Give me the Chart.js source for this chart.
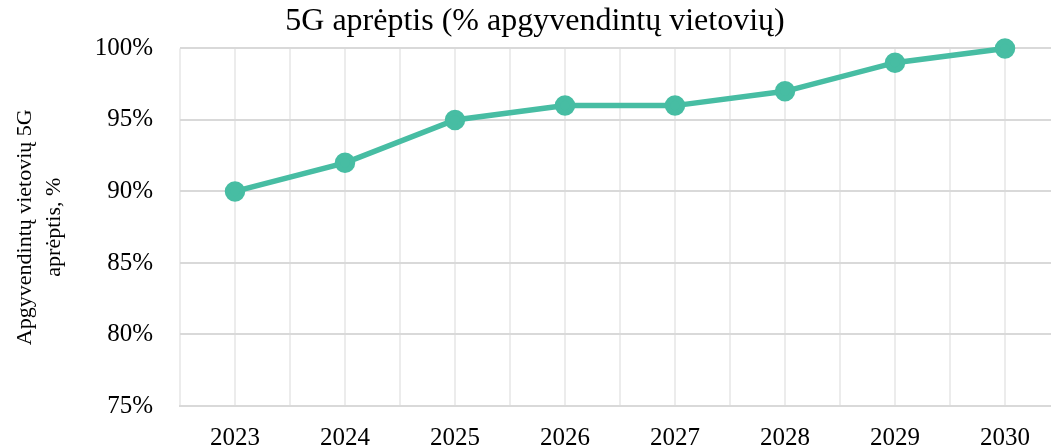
<!DOCTYPE html>
<html>
<head>
<meta charset="utf-8">
<script src="https://cdn.jsdelivr.net/npm/chart.js@4"></script>
<style>
  html, body { margin: 0; padding: 0; background: #fff; overflow: hidden; }
  canvas { display: block; }
</style>
</head>
<body>
<canvas id="chart" width="1062" height="470"></canvas>
<script>
const years = [2023, 2024, 2025, 2026, 2027, 2028, 2029, 2030];
const coverage = [90, 92, 95, 96, 96, 97, 99, 100];
const yTicks = [75, 80, 85, 90, 95, 100];

const titleText = "5G aprėptis (% apgyvendintų vietovių)";
const yTitle = ["Apgyvendintų vietovių 5G", "aprėptis, %"];

const serif = "'Liberation Serif', 'Times New Roman', serif";
const teal = "#47bda3";

new Chart(document.getElementById("chart"), {
  type: "line",
  data: {
    datasets: [{
      data: years.map((y, i) => ({ x: y, y: coverage[i] })),
      borderColor: teal,
      backgroundColor: teal,
      borderWidth: 5.5,
      pointRadius: 7.5,
      pointHoverRadius: 7.5,
      tension: 0,
      clip: false
    }]
  },
  options: {
    responsive: false,
    animation: false,
    layout: { autoPadding: false, padding: { left: 10, right: 2, top: 0, bottom: 0 } },
    plugins: {
      legend: { display: false },
      tooltip: { enabled: false },
      title: {
        display: true,
        text: titleText,
        color: "#000",
        font: { family: serif, size: 32, weight: "normal" },
        padding: { top: 2, bottom: 8 }
      }
    },
    scales: {
      x: {
        type: "linear",
        min: years[0] - 0.5,
        max: years[years.length - 1] + 0.5,
        afterBuildTicks: (axis) => {
          const t = [];
          for (let v = axis.min; v <= axis.max + 1e-6; v += 0.5) t.push({ value: v });
          axis.ticks = t;
        },
        afterFit: (axis) => { axis.paddingLeft = 0; axis.paddingRight = 0; },
        ticks: {
          autoSkip: false,
          maxRotation: 0,
          padding: 17,
          color: "#000",
          font: { family: serif, size: 25 },
          callback: (v) => (Number.isInteger(v) && years.includes(v) ? String(v) : "")
        },
        grid: { color: "#ececec", lineWidth: 2, drawTicks: false },
        border: { color: "#d9d9d9", width: 2 }
      },
      y: {
        min: yTicks[0],
        max: yTicks[yTicks.length - 1],
        afterBuildTicks: (axis) => { axis.ticks = yTicks.map(v => ({ value: v })); },
        afterFit: (axis) => { axis.width = 170; axis.paddingTop = 0; axis.paddingBottom = 0; },
        ticks: {
          padding: 27,
          color: "#000",
          font: { family: serif, size: 25 },
          callback: (v) => v + "%"
        },
        grid: { color: "#d9d9d9", lineWidth: 2, drawTicks: false },
        border: { display: false },
        title: {
          display: true,
          text: yTitle,
          color: "#000",
          font: { family: serif, size: 22, lineHeight: 1.35 },
          padding: { top: 0, bottom: 28 }
        }
      }
    }
  }
});
</script>
</body>
</html>
